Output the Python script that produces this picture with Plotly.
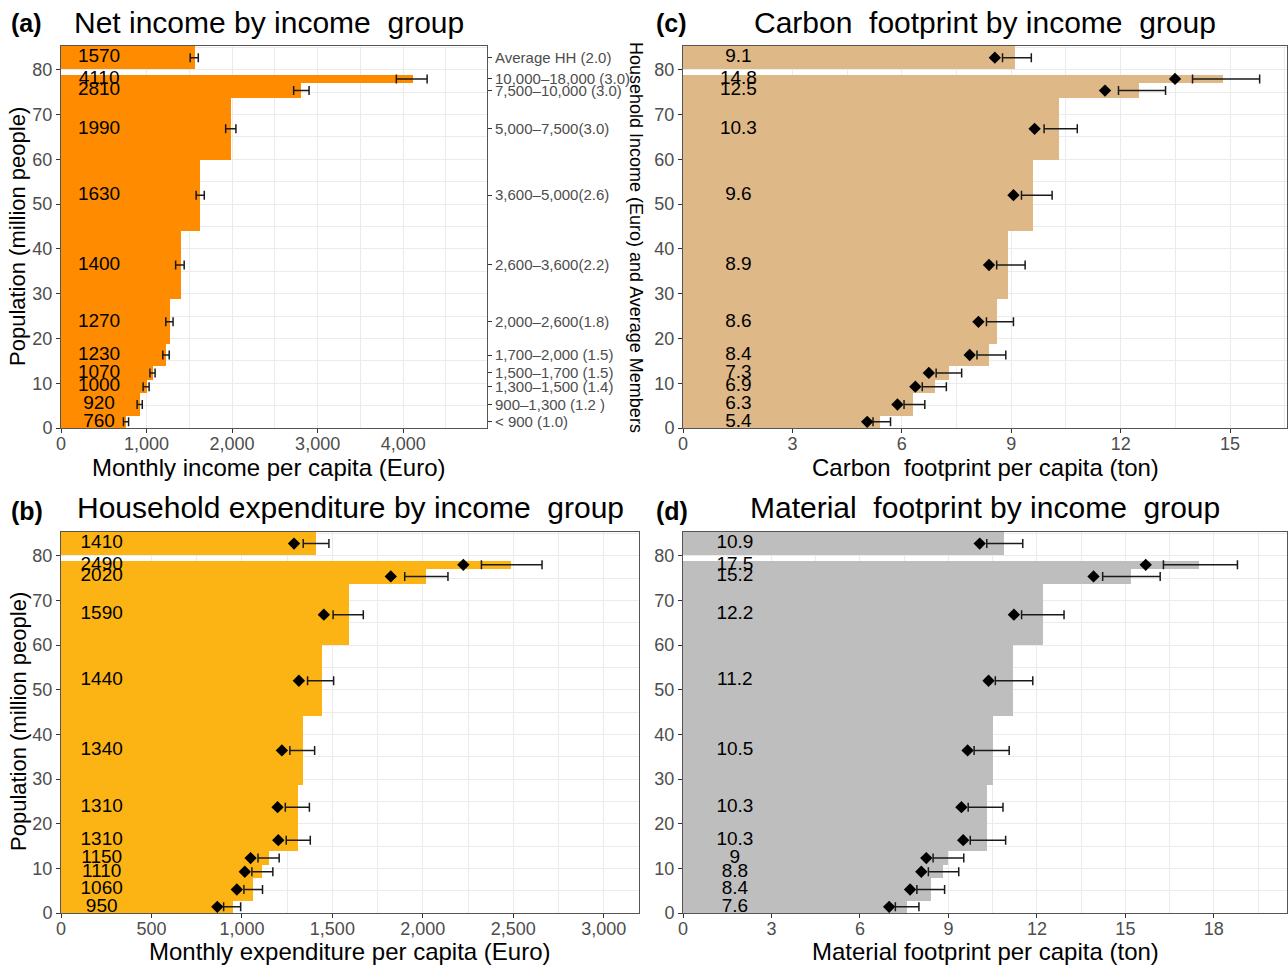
import plotly.graph_objects as go

# ---------------- data ----------------
# income groups, lowest to highest (household income in Euro, average members)
group_labels = ["< 900 (1.0)", "900–1,300 (1.2 )", "1,300–1,500 (1.4)", "1,500–1,700 (1.5)",
                "1,700–2,000 (1.5)", "2,000–2,600(1.8)", "2,600–3,600(2.2)", "3,600–5,000(2.6)",
                "5,000–7,500(3.0)", "7,500–10,000 (3.0)", "10,000–18,000 (3.0)"]
avg_label = "Average HH (2.0)"

# population of each group (million people)
population = [2.76, 4.99, 2.95, 3.2, 4.8, 10.0, 15.4, 15.8, 13.8, 3.3, 1.9]
# population band used for the average household bar
avg_band = [80.1, 85.3]

# (a) monthly net income per capita (Euro)
income = [760, 920, 1000, 1070, 1230, 1270, 1400, 1630, 1990, 2810, 4110]
income_lo = [730, 890, 960, 1040, 1190, 1225, 1340, 1580, 1925, 2720, 3920]
income_hi = [790, 950, 1030, 1100, 1265, 1310, 1440, 1675, 2045, 2900, 4280]
income_avg, income_avg_lo, income_avg_hi = 1570, 1510, 1605

# (b) monthly household expenditure per capita (Euro)
expend = [950, 1060, 1110, 1150, 1310, 1310, 1340, 1440, 1590, 2020, 2490]
expend_pt = [864, 972, 1016, 1048, 1201, 1197, 1221, 1315, 1453, 1823, 2224]
expend_lo = [899, 1011, 1055, 1089, 1245, 1240, 1265, 1363, 1504, 1900, 2324]
expend_hi = [993, 1114, 1171, 1206, 1378, 1373, 1402, 1507, 1671, 2139, 2659]
expend_avg, expend_avg_pt, expend_avg_lo, expend_avg_hi = 1410, 1288, 1339, 1481

# (c) carbon footprint per capita (ton)
carbon = [5.4, 6.3, 6.9, 7.3, 8.4, 8.6, 8.9, 9.6, 10.3, 12.5, 14.8]
carbon_pt = [5.05, 5.88, 6.37, 6.74, 7.86, 8.10, 8.39, 9.06, 9.64, 11.57, 13.49]
carbon_lo = [5.21, 6.06, 6.56, 6.94, 8.06, 8.32, 8.60, 9.28, 9.90, 11.94, 13.97]
carbon_hi = [5.69, 6.63, 7.22, 7.64, 8.85, 9.06, 9.38, 10.12, 10.81, 13.23, 15.81]
carbon_avg, carbon_avg_pt, carbon_avg_lo, carbon_avg_hi = 9.1, 8.55, 8.76, 9.55

# (d) material footprint per capita (ton)
material = [7.6, 8.4, 8.8, 9, 10.3, 10.3, 10.5, 11.2, 12.2, 15.2, 17.5]
material_pt = [6.99, 7.70, 8.08, 8.25, 9.50, 9.44, 9.65, 10.36, 11.22, 13.92, 15.69]
material_lo = [7.20, 7.93, 8.32, 8.48, 9.74, 9.67, 9.87, 10.59, 11.48, 14.23, 16.29]
material_hi = [8.00, 8.87, 9.35, 9.52, 10.94, 10.85, 11.06, 11.86, 12.92, 16.18, 18.80]
material_avg, material_avg_pt, material_avg_lo, material_avg_hi = 10.9, 10.06, 10.30, 11.52

# ---------------- layout helpers ----------------
W, H = 1288, 966
FONT = "Liberation Sans, Arial, sans-serif"
GRID = "#ebebeb"
BORDER = "#555555"
TICKCOL = "#4d4d4d"


def px_x(p):
    return p / W


def px_y(p):
    return 1 - p / H


# bar centres from the cumulative population
edges = [0.0]
for p in population:
    edges.append(edges[-1] + p)
centres = [(edges[i] + edges[i + 1]) / 2 for i in range(len(population))]
avg_centre = (avg_band[0] + avg_band[1]) / 2
avg_height = avg_band[1] - avg_band[0]


def fmt(v):
    return f"{v:g}"


fig = go.Figure()

panels = [
    dict(ax="", vals=income, avg=income_avg, pts=None, avg_pt=None,
         lo=income_lo, hi=income_hi, avg_lo=income_avg_lo, avg_hi=income_avg_hi,
         color="#FF8C00", xmax=4980, dtick=1000, label_x=445, fmtx=",d",
         box=(61, 487, 46, 428)),
    dict(ax="2", vals=expend, avg=expend_avg, pts=expend_pt, avg_pt=expend_avg_pt,
         lo=expend_lo, hi=expend_hi, avg_lo=expend_avg_lo, avg_hi=expend_avg_hi,
         color="#FCB415", xmax=3195, dtick=500, label_x=225, fmtx=",d",
         box=(61, 639, 532, 913)),
    dict(ax="3", vals=carbon, avg=carbon_avg, pts=carbon_pt, avg_pt=carbon_avg_pt,
         lo=carbon_lo, hi=carbon_hi, avg_lo=carbon_avg_lo, avg_hi=carbon_avg_hi,
         color="#DEB887", xmax=16.56, dtick=3, label_x=1.52, fmtx="",
         box=(683, 1287, 46, 428)),
    dict(ax="4", vals=material, avg=material_avg, pts=material_pt, avg_pt=material_avg_pt,
         lo=material_lo, hi=material_hi, avg_lo=material_avg_lo, avg_hi=material_avg_hi,
         color="#BEBEBE", xmax=20.48, dtick=3, label_x=1.76, fmtx="",
         box=(683, 1287, 532, 913)),
]

layout_axes = {}
for pnl in panels:
    a = pnl["ax"]
    xref, yref = "x" + a, "y" + a
    x0, x1, y0, y1 = pnl["box"]

    # income-group bars with population as bar thickness
    fig.add_trace(go.Bar(
        x=pnl["vals"], y=centres, width=population, orientation="h",
        marker=dict(color=pnl["color"], line=dict(width=0)),
        xaxis=xref, yaxis=yref, showlegend=False, hoverinfo="skip"))
    # average household bar
    fig.add_trace(go.Bar(
        x=[pnl["avg"]], y=[avg_centre], width=[avg_height], orientation="h",
        marker=dict(color=pnl["color"], line=dict(width=0)),
        xaxis=xref, yaxis=yref, showlegend=False, hoverinfo="skip"))

    # error bars around the bar values
    all_vals = pnl["vals"] + [pnl["avg"]]
    all_lo = pnl["lo"] + [pnl["avg_lo"]]
    all_hi = pnl["hi"] + [pnl["avg_hi"]]
    all_y = centres + [avg_centre]
    fig.add_trace(go.Scatter(
        x=all_vals, y=all_y, mode="markers",
        marker=dict(color="rgba(0,0,0,0)", size=1),
        error_x=dict(type="data", symmetric=False,
                     array=[h - v for h, v in zip(all_hi, all_vals)],
                     arrayminus=[v - l for l, v in zip(all_lo, all_vals)],
                     color="#1a1a1a", thickness=1.5, width=4.5),
        xaxis=xref, yaxis=yref, showlegend=False, hoverinfo="skip"))

    # diamond points
    if pnl["pts"] is not None:
        fig.add_trace(go.Scatter(
            x=pnl["pts"] + [pnl["avg_pt"]], y=all_y, mode="markers",
            marker=dict(symbol="diamond", color="black", size=9.5),
            xaxis=xref, yaxis=yref, showlegend=False, hoverinfo="skip"))

    # value labels
    fig.add_trace(go.Scatter(
        x=[pnl["label_x"]] * len(all_y), y=all_y, mode="text",
        text=[fmt(v) for v in all_vals], textposition="middle center",
        textfont=dict(family=FONT, size=19, color="black"),
        xaxis=xref, yaxis=yref, showlegend=False, hoverinfo="skip", cliponaxis=False))

    xkey = "xaxis" + a
    ykey = "yaxis" + a
    layout_axes[xkey] = dict(
        domain=[px_x(x0), px_x(x1)], anchor=yref, range=[0, pnl["xmax"]],
        tick0=0, dtick=pnl["dtick"], tickformat=pnl["fmtx"], automargin=False,
        showgrid=True, gridcolor=GRID, gridwidth=1.2,
        minor=dict(dtick=pnl["dtick"] / 2, tick0=0, showgrid=True, gridcolor=GRID, gridwidth=0.7),
        showline=True, linecolor=BORDER, linewidth=1, mirror=True,
        ticks="outside", ticklen=4, tickcolor="#333333", tickwidth=1,
        ticklabelstandoff=-5,
        tickfont=dict(family=FONT, size=18, color=TICKCOL),
        zeroline=False, fixedrange=True)
    layout_axes[ykey] = dict(
        domain=[px_y(y1), px_y(y0)], anchor=xref, range=[0, avg_band[1]],
        tick0=0, dtick=10, automargin=False,
        showgrid=True, gridcolor=GRID, gridwidth=1.2,
        minor=dict(dtick=5, tick0=0, showgrid=True, gridcolor=GRID, gridwidth=0.7),
        showline=True, linecolor=BORDER, linewidth=1, mirror=True,
        ticks="outside", ticklen=4, tickcolor="#333333", tickwidth=1,
        tickfont=dict(family=FONT, size=18, color=TICKCOL),
        zeroline=False, fixedrange=True)

# secondary axis of panel (a): income group names at bar centres
fig.add_trace(go.Scatter(
    x=[0], y=[0], mode="markers", marker=dict(color="rgba(0,0,0,0)", size=1),
    xaxis="x", yaxis="y5", showlegend=False, hoverinfo="skip"))
layout_axes["yaxis5"] = dict(
    overlaying="y", side="right", anchor="x", range=[0, avg_band[1]], automargin=False,
    tickmode="array", tickvals=centres + [avg_centre], ticktext=group_labels + [avg_label],
    showgrid=False, zeroline=False, showline=False,
    ticks="outside", ticklen=4, tickcolor="#333333",
    tickfont=dict(family=FONT, size=15, color=TICKCOL), fixedrange=True)

fig.update_layout(
    width=W, height=H, margin=dict(l=0, r=0, t=0, b=0, autoexpand=False),
    paper_bgcolor="white", plot_bgcolor="white",
    bargap=0, barmode="overlay",
    font=dict(family=FONT, color="black"),
    **layout_axes)


# titles, tags and axis titles
def ann(text, x, y, size, bold=False, angle=0, xanchor="center"):
    fig.add_annotation(
        text=f"<b>{text}</b>" if bold else text, x=px_x(x), y=px_y(y),
        xref="paper", yref="paper", xanchor=xanchor, yanchor="middle",
        showarrow=False, textangle=angle,
        font=dict(family=FONT, size=size, color="black"))


NB = "\u00a0"
ann("(a)", 9, 23, 25, bold=True, xanchor="left")
ann("(b)", 9, 511, 25, bold=True, xanchor="left")
ann("(c)", 654, 23, 25, bold=True, xanchor="left")
ann("(d)", 654, 511, 25, bold=True, xanchor="left")

ann(f"Net income by income{NB} group", 269, 22, 30)
ann(f"Household expenditure by income{NB} group", 350, 508, 30)
ann(f"Carbon{NB} footprint by income{NB} group", 985, 22, 30)
ann(f"Material{NB} footprint by income{NB} group", 985, 508, 30)

ann("Monthly income per capita (Euro)", 268, 467, 24)
ann("Monthly expenditure per capita (Euro)", 350, 951, 24)
ann(f"Carbon{NB} footprint per capita (ton)", 985, 467, 24)
ann("Material footprint per capita (ton)", 985, 951, 24)

ann("Population (million people)", 18, 237, 22, angle=-90)
ann("Population (million people)", 18, 722, 22, angle=-90)
ann("Household Income (Euro) and Average Members", 636, 237, 18, angle=90)

fig.write_html("out.html")
